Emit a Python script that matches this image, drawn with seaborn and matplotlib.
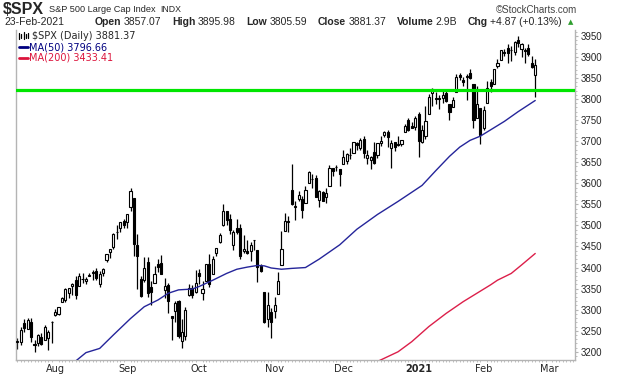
import matplotlib
matplotlib.use("Agg")
import matplotlib.pyplot as plt
import seaborn as sns
import pandas as pd
import numpy as np
from matplotlib.lines import Line2D

# trading calendar (market holidays skipped)
holidays = ["2020-09-07", "2020-11-26", "2020-12-25", "2021-01-01", "2021-01-18", "2021-02-15"]
dates = pd.bdate_range("2020-07-17", "2021-03-12", freq="C", holidays=holidays)

# daily OHLC, 17-Jul-2020 .. 23-Feb-2021
opens = [3224.2, 3224.3, 3268.5, 3254.9, 3271.6, 3218.6, 3219.8, 3234.3, 3227.2, 3231.8, 3270.5,
         3288.3, 3289.9, 3317.4, 3323.2, 3340.1, 3356.0, 3370.3, 3355.5, 3372.9, 3368.7, 3380.9,
         3387.0, 3392.5, 3360.5, 3386.0, 3418.1, 3435.9, 3449.9, 3485.1, 3494.7, 3509.7,
         3507.4, 3543.8, 3564.7, 3453.6, 3371.9, 3369.8, 3412.6, 3352.7, 3363.6, 3407.7, 3411.2,
         3346.9, 3357.4, 3285.6, 3295.8, 3320.1, 3226.1, 3236.7, 3333.9, 3350.9, 3341.2,
         3385.9, 3338.9, 3367.3, 3408.7, 3384.6, 3434.3, 3459.7, 3500.0, 3534.0, 3515.5, 3453.7,
         3493.5, 3493.7, 3439.4, 3439.9, 3438.5, 3464.9, 3441.4, 3403.2, 3342.5, 3277.2, 3293.6,
         3296.2, 3336.3, 3406.5, 3485.7, 3508.3, 3583.0, 3543.3, 3563.2, 3562.7, 3552.6, 3600.2,
         3610.3, 3612.1, 3559.4, 3579.3, 3566.8, 3594.5, 3635.5, 3638.6, 3634.2,
         3645.9, 3653.8, 3668.3, 3670.9, 3694.7, 3683.1, 3705.9, 3659.1, 3656.1, 3675.3, 3666.4,
         3696.3, 3713.7, 3722.4, 3684.3, 3698.1, 3693.4, 3694.0, 3723.0, 3750.0, 3736.2, 3733.3,
         3764.6, 3698.0, 3712.2, 3764.7, 3815.1, 3803.1, 3801.6, 3802.2, 3815.0, 3788.7, 3781.9,
         3816.2, 3857.5, 3844.2, 3851.7, 3863.0, 3836.8, 3755.8, 3778.1,
         3731.2, 3791.8, 3840.3, 3836.7, 3878.3, 3892.6, 3910.5, 3920.8, 3916.4, 3911.7, 3939.6,
         3918.5, 3915.9, 3921.2, 3885.6, 3857.07]
highs = [3233.5, 3258.6, 3277.3, 3279.3, 3279.9, 3227.3, 3241.4, 3243.7, 3264.7, 3250.9, 3272.2,
         3302.7, 3306.8, 3330.8, 3351.0, 3352.5, 3363.3, 3381.0, 3387.9, 3387.2, 3378.5, 3387.6,
         3395.1, 3399.5, 3390.8, 3399.9, 3432.1, 3444.2, 3481.1, 3501.4, 3509.2, 3514.8,
         3528.0, 3588.1, 3564.9, 3479.2, 3379.0, 3424.8, 3425.6, 3368.9, 3402.9, 3419.5, 3428.9,
         3375.2, 3362.3, 3285.6, 3320.3, 3323.4, 3278.7, 3306.9, 3360.7, 3357.9, 3393.6,
         3397.2, 3369.1, 3409.6, 3431.6, 3426.3, 3447.3, 3482.3, 3549.9, 3534.0, 3527.9, 3489.1,
         3515.8, 3502.4, 3476.9, 3464.9, 3460.5, 3466.5, 3441.4, 3409.5, 3342.5, 3341.1, 3304.9,
         3330.1, 3389.5, 3486.3, 3529.1, 3521.6, 3645.9, 3557.2, 3581.2, 3569.0, 3593.7, 3628.5,
         3623.1, 3619.1, 3585.2, 3581.2, 3589.8, 3642.3, 3635.5, 3644.3, 3634.2,
         3678.5, 3670.9, 3682.7, 3699.2, 3697.4, 3708.5, 3712.4, 3678.5, 3665.9, 3697.6, 3695.3,
         3711.3, 3725.1, 3726.7, 3702.9, 3698.3, 3711.2, 3703.8, 3740.5, 3756.1, 3744.6, 3760.2,
         3770.0, 3737.8, 3783.0, 3811.6, 3826.7, 3817.9, 3810.8, 3821.0, 3823.6, 3788.7, 3804.5,
         3859.8, 3861.5, 3852.3, 3859.2, 3870.9, 3836.8, 3830.5, 3778.1,
         3784.3, 3843.1, 3847.5, 3872.4, 3894.6, 3915.8, 3918.4, 3931.5, 3926.0, 3937.2, 3950.4,
         3933.6, 3922.0, 3930.4, 3902.9, 3895.98]
lows = [3205.7, 3215.2, 3247.8, 3253.1, 3222.7, 3200.1, 3214.3, 3216.2, 3227.2, 3204.1, 3220.3,
        3284.5, 3286.7, 3317.4, 3318.1, 3328.7, 3335.4, 3326.4, 3355.5, 3363.4, 3361.6, 3379.2,
        3370.2, 3369.7, 3354.7, 3379.3, 3413.1, 3421.8, 3444.2, 3468.4, 3484.3, 3493.3,
        3494.6, 3535.2, 3427.4, 3349.6, 3329.3, 3366.8, 3329.3, 3310.5, 3363.6, 3389.3, 3384.5,
        3328.8, 3292.4, 3229.1, 3270.9, 3232.6, 3209.5, 3228.4, 3332.9, 3327.5, 3340.0,
        3361.4, 3323.7, 3367.3, 3354.5, 3384.6, 3428.2, 3458.1, 3499.6, 3500.9, 3480.6, 3440.9,
        3480.5, 3419.9, 3435.7, 3433.1, 3415.3, 3440.5, 3364.9, 3388.7, 3268.9, 3259.8, 3233.9,
        3279.7, 3336.3, 3405.2, 3485.7, 3484.3, 3547.5, 3511.9, 3557.0, 3518.6, 3552.6, 3600.2,
        3588.7, 3567.3, 3543.8, 3556.9, 3552.8, 3594.5, 3617.8, 3629.3, 3594.4,
        3645.9, 3644.8, 3657.2, 3670.9, 3678.9, 3678.8, 3660.5, 3645.2, 3633.4, 3645.8, 3659.6,
        3688.6, 3710.9, 3685.8, 3636.5, 3676.2, 3689.3, 3689.3, 3723.0, 3723.3, 3730.2, 3726.9,
        3662.7, 3695.1, 3705.3, 3764.7, 3783.6, 3789.0, 3776.5, 3791.5, 3792.9, 3749.6, 3780.4,
        3816.2, 3845.1, 3830.4, 3797.2, 3847.8, 3732.5, 3755.8, 3694.1,
        3725.6, 3791.8, 3816.7, 3836.7, 3874.9, 3892.6, 3902.6, 3884.9, 3890.4, 3905.8, 3923.9,
        3900.4, 3885.0, 3903.1, 3874.7, 3805.59]
closes = [3224.7, 3251.8, 3257.3, 3276.0, 3235.7, 3215.6, 3239.4, 3218.4, 3258.4, 3246.2, 3271.1,
          3294.6, 3306.5, 3327.8, 3349.2, 3351.3, 3360.5, 3333.7, 3380.4, 3373.4, 3372.9, 3382.0,
          3389.8, 3374.9, 3385.5, 3397.2, 3431.3, 3443.6, 3478.7, 3484.6, 3508.0, 3500.3,
          3526.7, 3580.8, 3455.1, 3427.0, 3331.8, 3399.0, 3339.2, 3341.0, 3383.5, 3401.2, 3385.5,
          3357.0, 3319.5, 3281.1, 3315.6, 3236.9, 3246.6, 3298.5, 3351.6, 3335.5, 3363.0,
          3380.8, 3348.4, 3408.6, 3361.0, 3419.4, 3446.8, 3477.1, 3534.2, 3511.9, 3488.7, 3483.3,
          3483.8, 3426.9, 3443.1, 3435.6, 3453.5, 3465.4, 3401.0, 3390.7, 3271.0, 3310.1, 3270.0,
          3310.2, 3369.2, 3443.4, 3510.5, 3509.4, 3550.5, 3545.5, 3572.7, 3537.0, 3585.2, 3626.9,
          3609.5, 3567.8, 3581.9, 3557.5, 3577.6, 3635.4, 3629.7, 3638.4, 3621.6,
          3662.5, 3669.0, 3666.7, 3699.1, 3692.0, 3702.3, 3672.8, 3668.1, 3663.5, 3647.5, 3694.6,
          3701.2, 3722.5, 3709.4, 3694.9, 3687.3, 3690.0, 3703.1, 3735.4, 3727.0, 3732.0, 3756.1,
          3700.7, 3726.9, 3748.1, 3803.8, 3824.7, 3799.6, 3801.2, 3809.8, 3795.5, 3768.3, 3798.9,
          3851.9, 3853.1, 3841.5, 3855.4, 3849.6, 3750.8, 3787.4, 3714.2,
          3773.9, 3826.3, 3830.2, 3871.7, 3886.8, 3915.6, 3911.2, 3909.9, 3916.4, 3934.8, 3932.6,
          3931.3, 3914.0, 3906.7, 3876.5, 3881.37]

# moving averages
ma50_dates = ["2020-08-11", "2020-08-14", "2020-08-20", "2020-08-26", "2020-09-02", "2020-09-09",
              "2020-09-15", "2020-09-18", "2020-09-23", "2020-09-29", "2020-10-01", "2020-10-07",
              "2020-10-13", "2020-10-16", "2020-10-21", "2020-10-26", "2020-10-28", "2020-10-30",
              "2020-11-04", "2020-11-09", "2020-11-13", "2020-11-19", "2020-11-30", "2020-12-07",
              "2020-12-15", "2020-12-23", "2021-01-05", "2021-01-11", "2021-01-15", "2021-01-21",
              "2021-01-26", "2021-01-29", "2021-02-03", "2021-02-09", "2021-02-16", "2021-02-23"]
ma50_vals = [3178, 3198, 3208, 3240, 3279, 3307, 3323, 3339, 3347, 3349, 3355, 3370,
             3386, 3396, 3401, 3405, 3404, 3399, 3396, 3398, 3400, 3420, 3454, 3491,
             3526, 3557, 3595, 3630, 3664, 3686, 3702, 3712, 3727, 3747, 3770, 3796.66]
ma200_dates = ["2020-12-15", "2020-12-23", "2020-12-30", "2021-01-07", "2021-01-14", "2021-01-22",
               "2021-01-28", "2021-02-03", "2021-02-05", "2021-02-11", "2021-02-17", "2021-02-23"]
ma200_vals = [3177, 3200, 3224, 3260, 3291, 3319, 3339, 3359, 3370, 3386, 3406, 3433.41]

support = 3821

month_dates = ["2020-08-03", "2020-09-01", "2020-10-01", "2020-11-02", "2020-12-01",
               "2021-01-04", "2021-02-01", "2021-03-01"]
month_labels = ["Aug", "Sep", "Oct", "Nov", "Dec", "2021", "Feb", "Mar"]

pos = {d: i for i, d in enumerate(dates)}
n = len(closes)
df = pd.DataFrame({"date": dates[:n], "open": opens, "high": highs, "low": lows, "close": closes})
df["x"] = np.arange(n)
ma50 = pd.DataFrame({"x": [pos[pd.Timestamp(d)] for d in ma50_dates], "v": ma50_vals})
ma200 = pd.DataFrame({"x": [pos[pd.Timestamp(d)] for d in ma200_dates], "v": ma200_vals})

sns.set_theme(style="white")
plt.rcParams["font.family"] = ["Liberation Sans", "DejaVu Sans"]

fig = plt.figure(figsize=(6.2, 3.76), dpi=100)
ax = fig.add_axes([16 / 620, 16 / 376, 559 / 620, 330 / 376])

# candles
up = df.close >= df.open
ax.vlines(df.x, df.low, df.high, color="black", lw=0.9, zorder=2)
ax.bar(df.x[up], (df.close - df.open)[up], bottom=df.open[up], width=0.62,
       color="white", edgecolor="black", lw=0.8, zorder=3)
ax.bar(df.x[~up], (df.open - df.close)[~up], bottom=df.close[~up], width=0.62,
       color="black", edgecolor="black", lw=0.8, zorder=3)

sns.lineplot(data=ma50, x="x", y="v", ax=ax, color="#25259a", lw=1.0, zorder=4)
sns.lineplot(data=ma200, x="x", y="v", ax=ax, color="#dc1f4a", lw=1.0, zorder=4)
ax.axhline(support, color="#00e600", lw=2.3, zorder=5)

ax.set_xlim(-0.4, 162.6)
ax.set_ylim(3180.5, 3964)
ax.set_xlabel("")
ax.set_ylabel("")

# axes look
for s in ["left", "right", "bottom"]:
    ax.spines[s].set_color("#b4b4b4")
    ax.spines[s].set_linewidth(1.0)
ax.spines["top"].set_visible(False)

ax.yaxis.tick_right()
ax.set_yticks(np.arange(3200, 3951, 50))
ax.set_yticks(np.arange(3190, 3961, 10), minor=True)
ax.tick_params(axis="y", which="major", labelsize=7, length=2.5, width=0.8,
               color="#b4b4b4", pad=1.5, right=True, left=False)
ax.tick_params(axis="y", which="minor", length=1.5, width=0.6, color="#b4b4b4",
               right=True, left=False)

ax.set_xticks([pos[pd.Timestamp(d)] for d in month_dates])
ax.set_xticklabels(month_labels, family="DejaVu Sans")
ax.set_xticks(np.arange(0, 163), minor=True)
ax.tick_params(axis="x", which="major", labelsize=7, length=0, pad=3, bottom=True)
ax.tick_params(axis="x", which="minor", length=1.5, width=0.6, color="#b4b4b4", bottom=True)
for lab in ax.get_xticklabels():
    if lab.get_text() == "2021":
        lab.set_fontweight("bold")

# header
renderer = fig.canvas.get_renderer()


def put(x, y, s, **kw):
    t = fig.text(x / 620, 1 - y / 376, s, va="center", ha="left", **kw)
    return x + t.get_window_extent(renderer).width


x = put(3, 9, "\\$SPX", fontsize=11.5, fontweight="bold") + 5
x = put(x, 10, "S&P 500 Large Cap Index", fontsize=6.6) + 5
put(x, 10, "INDX", fontsize=6.3)
put(496, 10, "\u00a9StockCharts.com", fontsize=7, color="#444444")
put(4, 22, "23-Feb-2021", fontsize=7.5)

x = 95
for lab, val in [("Open", "3857.07"), ("High", "3895.98"), ("Low", "3805.59"),
                 ("Close", "3881.37"), ("Volume", "2.9B"), ("Chg", "+4.87 (+0.13%)")]:
    x = put(x, 22, lab, fontsize=7.5, fontweight="bold") + 2.5
    x = put(x, 22, val, fontsize=7.5) + 10.5
put(x - 5, 22, "\u25b2", fontsize=5, color="#2e9e2e", family="DejaVu Sans")

# legend inside the plot
for lx, y0, y1 in [(19, 33, 39), (21, 34, 38), (24, 32, 39), (26, 34, 38), (28, 33, 38)]:
    fig.add_artist(Line2D([lx / 620, lx / 620], [1 - y0 / 376, 1 - y1 / 376],
                          color="black", lw=0.9))
put(32, 36, "\\$SPX (Daily) 3881.37", fontsize=7, family="DejaVu Sans")
fig.add_artist(Line2D([19 / 620, 28 / 620], [1 - 47 / 376] * 2, color="#000080", lw=2))
put(29, 47, "MA(50) 3796.66", fontsize=7, family="DejaVu Sans", color="#000080")
fig.add_artist(Line2D([19 / 620, 28 / 620], [1 - 57.5 / 376] * 2, color="#dc143c", lw=2))
put(29, 57.5, "MA(200) 3433.41", fontsize=7, family="DejaVu Sans", color="#dc143c")

fig.savefig("out.png", dpi=100)
